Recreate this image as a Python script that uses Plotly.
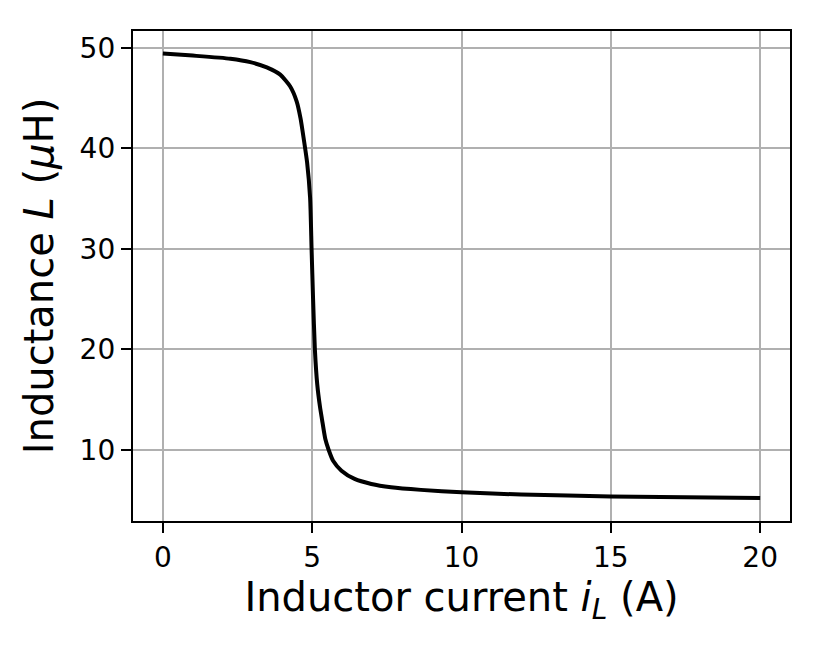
import plotly.graph_objects as go

# Data
current_A = [0, 1, 2.26, 2.93, 3.48, 3.93, 4.26, 4.48, 4.61, 4.72, 4.83, 4.93, 4.98,
             5.03, 5.09, 5.17, 5.26, 5.33, 5.44, 5.55, 5.70, 5.98, 6.42, 6.98, 7.64,
             8.64, 10, 12, 15, 20]
inductance_uH = [49.46, 49.25, 48.94, 48.6, 48.07, 47.35, 46.2, 44.7, 43.0, 40.9, 38.6,
                 35.1, 30.0, 25.0, 20.0, 16.5, 14.3, 13.0, 11.06, 10.0, 8.9, 7.91,
                 7.09, 6.59, 6.26, 6.0, 5.76, 5.53, 5.35, 5.18]
x_ticks = [0, 5, 10, 15, 20]
y_ticks = [10, 20, 30, 40, 50]

FONT = "DejaVu Sans"

fig = go.Figure()
fig.add_trace(go.Scatter(
    x=current_A, y=inductance_uH, mode="lines",
    line=dict(color="black", width=4, shape="spline", smoothing=0.6),
    showlegend=False, hoverinfo="skip",
))

axis_common = dict(
    showgrid=True, gridcolor="#b0b0b0", gridwidth=2.2,
    showline=True, linecolor="black", linewidth=2.3, mirror=True,
    ticks="outside", ticklen=10, tickwidth=2.2, tickcolor="black",
    zeroline=False,
    tickfont=dict(family=FONT, size=28, color="black"),
)

fig.update_xaxes(
    range=[-1, 21], tickvals=x_ticks,
    title=dict(text="Inductor current <i>i</i><sub><i>L</i></sub> (A)",
               font=dict(family=FONT, size=40, color="black"), standoff=6),
    **axis_common,
)
fig.update_yaxes(
    range=[2.9, 51.7], tickvals=y_ticks,
    title=dict(text="Inductance <i>L</i> (<i>μ</i>H)",
               font=dict(family=FONT, size=40, color="black"), standoff=14),
    **axis_common,
)

fig.update_layout(
    width=814, height=637,
    margin=dict(l=125, r=32, t=23, b=124, autoexpand=False),
    paper_bgcolor="white", plot_bgcolor="white",
    font=dict(family=FONT, color="black"),
)

fig.write_html("out.html")
